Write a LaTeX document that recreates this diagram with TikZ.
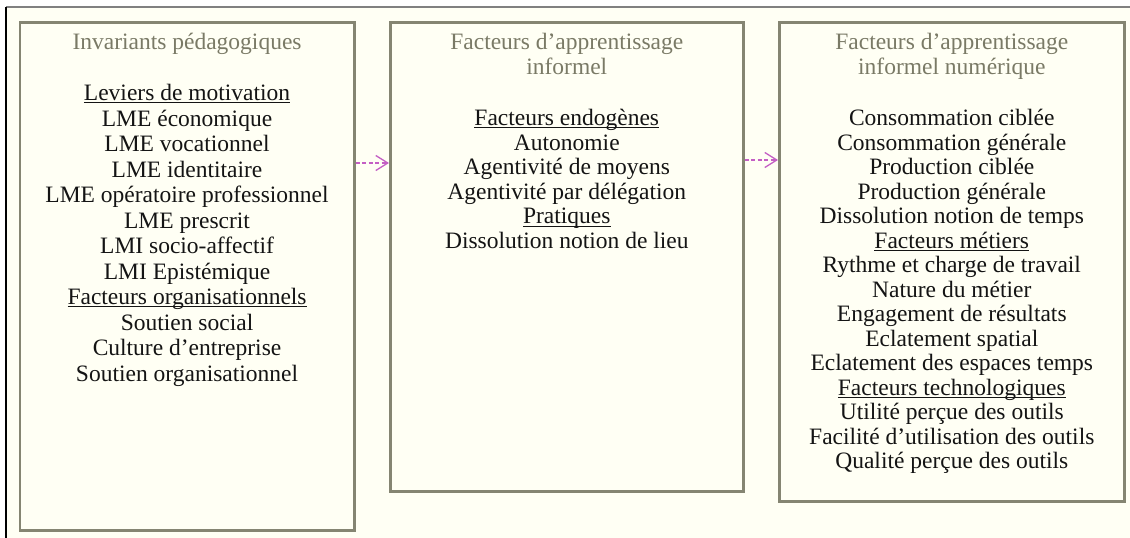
\documentclass[tikz,border=0pt]{standalone}
\usepackage{fontspec}
\setmainfont{Liberation Serif}
\usetikzlibrary{arrows.meta,calc}
\definecolor{cream}{HTML}{FFFFF4}
\definecolor{boxline}{HTML}{858572}
\definecolor{titlegray}{HTML}{7A7A66}
\definecolor{arrowmag}{HTML}{C45EC4}
\definecolor{txt}{HTML}{141414}
\definecolor{topline}{HTML}{808080}
\newcommand\ulh[1]{\setbox0\hbox{#1}\rlap{\rule[-2.8pt]{\wd0}{0.9pt}}\box0}
\tikzset{
  panel/.style={draw=boxline, line width=2.6pt, fill=cream, inner sep=0pt},
  paneltitle/.style={text=titlegray, align=center, anchor=north, inner sep=0pt,
    font={\fontsize{23.5}{25}\selectfont}},
  panelbody/.style={text=txt, align=center, anchor=north, inner sep=0pt},
  conn/.style={draw=arrowmag, line width=1.3pt, dash pattern=on 4pt off 2.5pt,
    -{Straight Barb[length=12pt,width=15pt]}}
}
\begin{document}
\begin{tikzpicture}[x=1pt,y=-1pt]
\useasboundingbox (0,0) rectangle (1130,538);
\fill[white] (0,0) rectangle (1130,538);
\fill[cream] (6,7) rectangle (1130,538);
\draw[topline, line width=2pt] (6,7) -- (1130,7);
\draw[black, line width=1.3pt] (6,7) -- (6,538);

\node[panel, minimum width=334.5pt, minimum height=508pt, anchor=north west] (b1) at (18.5,21) {};
\node[panel, minimum width=353pt, minimum height=469pt, anchor=north west] (b2) at (389,21) {};
\node[panel, minimum width=345pt, minimum height=479pt, anchor=north west] (b3) at (778,21) {};

\node[paneltitle] (t1) at ($(b1.north)+(0,12)$) {Invariants pédagogiques};
\node[paneltitle] (t2) at ($(b2.north)+(0,12)$) {Facteurs d’apprentissage\\informel};
\node[paneltitle] (t3) at ($(b3.north)+(0,12)$) {Facteurs d’apprentissage\\informel numérique};

\node[panelbody, font={\fontsize{23.5}{25.5}\selectfont}] (c1) at ($(b1.north)+(0,63)$) {%
\ulh{Leviers de motivation}\\
LME économique\\
LME vocationnel\\
LME identitaire\\
LME opératoire professionnel\\
LME prescrit\\
LMI socio-affectif\\
LMI Epistémique\\
\ulh{Facteurs organisationnels}\\
Soutien social\\
Culture d’entreprise\\
Soutien organisationnel};

\node[panelbody, font={\fontsize{23.5}{24.6}\selectfont}] (c2) at ($(b2.north)+(0,88)$) {%
\ulh{Facteurs endogènes}\\
Autonomie\\
Agentivité de moyens\\
Agentivité par délégation\\
\ulh{Pratiques}\\
Dissolution notion de lieu};

\node[panelbody, font={\fontsize{23.5}{24.5}\selectfont}] (c3) at ($(b3.north)+(0,88)$) {%
Consommation ciblée\\
Consommation générale\\
Production ciblée\\
Production générale\\
Dissolution notion de temps\\
\ulh{Facteurs métiers}\\
Rythme et charge de travail\\
Nature du métier\\
Engagement de résultats\\
Eclatement spatial\\
Eclatement des espaces temps\\
\ulh{Facteurs technologiques}\\
Utilité perçue des outils\\
Facilité d’utilisation des outils\\
Qualité perçue des outils};

\draw[conn] ($(b1.north east)+(0,142)$) -- ($(b2.north west)+(0,142)$);
\draw[conn] ($(b2.north east)+(0,139)$) -- ($(b3.north west)+(0,139)$);
\end{tikzpicture}
\end{document}
